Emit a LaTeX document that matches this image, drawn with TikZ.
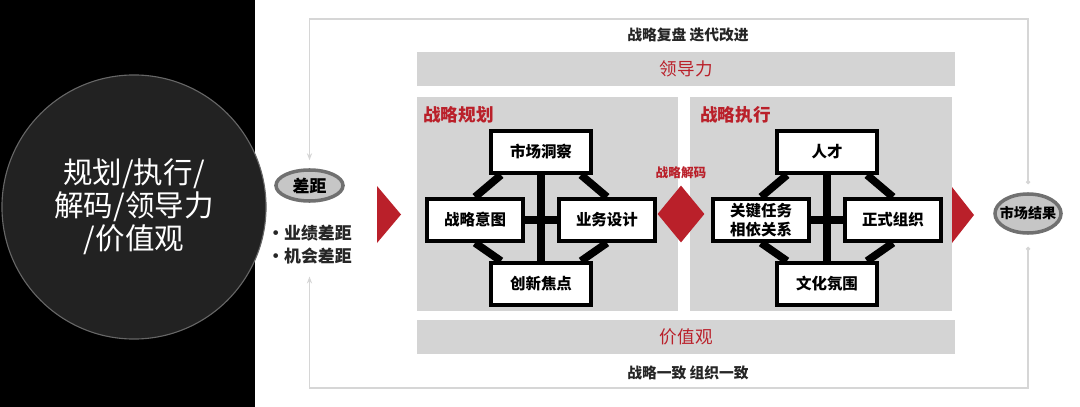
\documentclass[tikz,border=0pt]{standalone}
\usepackage{fontspec}
\setmainfont{Noto Sans CJK SC}
\usepackage{tikz}
\usetikzlibrary{shapes.geometric,arrows.meta,positioning,calc,backgrounds}
\definecolor{panelgray}{RGB}{212,212,212}
\definecolor{strategyred}{RGB}{186,32,42}
\definecolor{coregray}{RGB}{34,34,34}
\definecolor{framegray}{RGB}{214,214,214}
\definecolor{ovalgray}{RGB}{198,198,198}
\definecolor{ovaledge}{RGB}{112,112,112}

\begin{document}
\begin{tikzpicture}[
    x=0.025cm, y=-0.025cm,
    panel/.style={rectangle, fill=panelgray, inner sep=0pt, anchor=north west},
    leadbar/.style={panel, minimum width=13.45cm, minimum height=0.85cm, text=strategyred, font=\fontsize{12.5}{15}\selectfont},
    paneltitle/.style={inner sep=0pt, text=strategyred, font=\bfseries\fontsize{12.5}{15}\selectfont},
    block/.style={rectangle, draw=black, fill=white, line width=2.8pt, inner sep=0pt, minimum height=1.05cm, align=center, font=\bfseries\fontsize{11}{13.5}\selectfont},
    topblock/.style={block, minimum width=2.5cm},
    midblock/.style={block, minimum width=2.4cm},
    conn/.style={line width=5.5pt, draw=black},
    oval/.style={ellipse, draw=ovaledge, fill=ovalgray, line width=2.5pt, inner sep=0pt},
    feedback/.style={draw=framegray, line width=0.9pt, {Circle[length=3pt]}-{Stealth[length=5pt]}},
    note/.style={inner sep=0pt, text=black!85, font=\bfseries\fontsize{10.5}{13}\selectfont}
]
\useasboundingbox (0,0) rectangle (1080,407);

% left black band with core circle
\fill[black] (0,0) rectangle (255,407);
\node[circle, fill=coregray, draw=black!60, line width=0.8pt, minimum size=6.6cm, text=white, align=center, font=\fontsize{21}{23.5}\selectfont] (core) at (134,207) {规划/执行/\\解码/领导力\\/价值观};

% gap and market result
\node[oval, minimum width=1.675cm, minimum height=0.775cm, label={[font=\bfseries\fontsize{12}{14}\selectfont]center:差距}] (gap) at (309.5,185.5) {};
\node[note, below=0.55cm of gap, align=left, font=\bfseries\fontsize{12}{16.4}\selectfont] (gapnote) {·业绩差距\\·机会差距};
\node[oval, minimum width=1.65cm, minimum height=0.975cm, label={[font=\bfseries\fontsize{10}{12}\selectfont]center:市场结果}] (mkt) at (1028,213.5) {};

% review loop
\coordinate (loopnw) at (309.5,19);
\coordinate (loopsw) at (309.5,388);
\draw[feedback, shorten <=0.2cm, shorten >=0.2cm] (mkt.north) |- (loopnw) -- (gap.north);
\draw[feedback, shorten <=0.3cm, shorten >=0.3cm] (mkt.south) |- (loopsw) -- (gapnote.south);
\node[note] (review) at (688,35) {战略复盘 迭代改进};
\node[note] (unity) at (688,373) {战略一致 组织一致};

% bars and panels
\begin{scope}[on background layer]
\node[leadbar] (leader) at (417,52) {领导力};
\node[leadbar] (values) at (417,320) {价值观};
\node[panel, minimum width=6.525cm, minimum height=5.35cm] (plan) at (417,97) {};
\node[panel, minimum width=6.55cm, minimum height=5.35cm] (exec) at (690,97) {};
\end{scope}
\node[paneltitle, below right=0.22cm and 0.15cm of plan.north west, anchor=north west] (plantitle) {战略规划};
\node[paneltitle, below right=0.22cm and 0.25cm of exec.north west, anchor=north west] (exectitle) {战略执行};

% planning blocks
\node[topblock] (insight) at (541,152) {市场洞察};
\node[midblock, below left=0.55cm and -0.9cm of insight] (intent) {战略意图};
\node[midblock, below right=0.55cm and -0.9cm of insight] (design) {业务设计};
\node[topblock, below=2.15cm of insight] (focus) {创新焦点};

% execution blocks
\node[topblock] (talent) at (827,152) {人才};
\node[midblock, below left=0.55cm and -0.9cm of talent] (task) {关键任务\\相依关系};
\node[midblock, below right=0.55cm and -0.9cm of talent] (org) {正式组织};
\node[topblock, below=2.15cm of talent] (culture) {文化氛围};

% frames behind the blocks
\begin{scope}[on background layer]
\foreach \t/\l/\r/\b in {insight/intent/design/focus, talent/task/org/culture} {
  \draw[conn] (\t) -- (\b);
  \draw[conn] (\l) -- (\r);
  \draw[conn] ([xshift=-1cm]\t.south) -- (\l.north);
  \draw[conn] ([xshift=1cm]\t.south) -- (\r.north);
  \draw[conn] (\l.south) -- ([xshift=-1cm]\b.north);
  \draw[conn] (\r.south) -- ([xshift=1cm]\b.north);
}
\end{scope}

% decoding diamond and red arrows
\node[diamond, fill=strategyred, inner sep=0pt, minimum width=1.175cm, minimum height=1.425cm] (decode) at (681,214) {};
\node[paneltitle, above=0.15cm of decode, font=\bfseries\fontsize{9}{11}\selectfont] (decodelabel) {战略解码};
\fill[strategyred] (377,186) -- (401,214.5) -- (377,243) -- cycle;
\fill[strategyred] (952,187) -- (974,215) -- (952,243) -- cycle;

\end{tikzpicture}
\end{document}
